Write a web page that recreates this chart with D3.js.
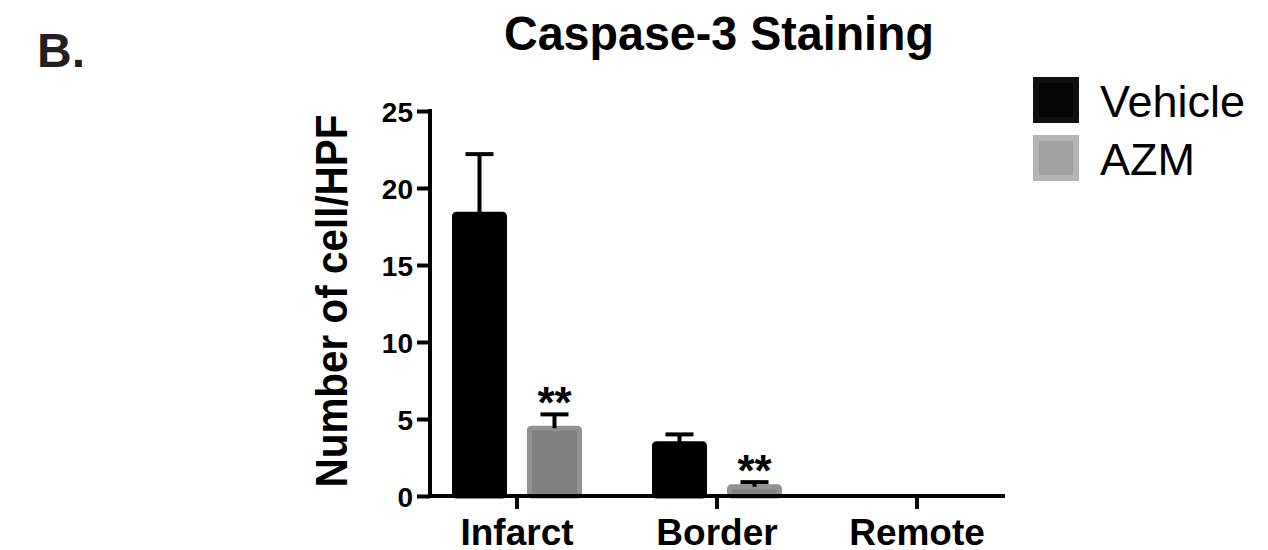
<!DOCTYPE html>
<html lang="en">
    <head>
        <meta charset="utf-8">
        <script type="text/javascript" src="https://d3js.org/d3.v7.min.js"></script>
        <style>
          body { margin: 0; background: #fff; }
          text { font-family: "Liberation Sans", Arial, sans-serif; }
        </style>
    </head>
    <body>
        <div id="chart"></div>
        <script type="text/javascript">
        // data
        var regions = ["Infarct", "Border", "Remote"];
        var groups = ["Vehicle", "AZM"];
        var vehicleMean = [18.3, 3.4, 0];
        var vehicleErr = [3.9, 0.6, 0];
        var azmMean = [4.4, 0.6, 0];
        var azmErr = [0.9, 0.3, 0];
        var stars = ["**", "**", ""];
        var yTicks = [0, 5, 10, 15, 20, 25];

        var width = 1268, height = 550;

        var svg = d3.select("#chart").append("svg")
          .attr("width", width)
          .attr("height", height);

        // scales
        var y = d3.scaleLinear()
          .domain([0, 25])
          .range([496, 111]);

        var x0 = d3.scaleBand()
          .domain(regions)
          .range([417, 1017]);

        var x1 = d3.scaleBand()
          .domain(groups)
          .range([35, 165])
          .paddingInner(20 / 75);

        // build rows from the arrays
        var rows = [];
        regions.forEach(function(r, i) {
          rows.push({region: r, group: "Vehicle", mean: vehicleMean[i], err: vehicleErr[i], star: ""});
          rows.push({region: r, group: "AZM", mean: azmMean[i], err: azmErr[i], star: stars[i]});
        });

        var fill = {Vehicle: "#000", AZM: "#808080"};
        var stroke = {Vehicle: "#000", AZM: "#929292"};

        // bars
        var bars = svg.append("g");
        bars.selectAll("rect")
          .data(rows.filter(function(d){ return d.mean > 0; }))
          .enter().append("rect")
            .attr("x", function(d){ return x0(d.region) + x1(d.group) + 2.5; })
            .attr("width", x1.bandwidth() - 5)
            .attr("y", function(d){ return y(d.mean); })
            .attr("height", function(d){ return y(0) - y(d.mean); })
            .attr("rx", 2)
            .style("fill", function(d){ return fill[d.group]; })
            .style("stroke", function(d){ return stroke[d.group]; })
            .style("stroke-width", 5);

        // error bars (upper only)
        var errs = svg.append("g")
          .selectAll("g")
          .data(rows.filter(function(d){ return d.err > 0; }))
          .enter().append("g");

        errs.append("line")
          .attr("x1", function(d){ return x0(d.region) + x1(d.group) + x1.bandwidth() / 2; })
          .attr("x2", function(d){ return x0(d.region) + x1(d.group) + x1.bandwidth() / 2; })
          .attr("y1", function(d){ return y(d.mean); })
          .attr("y2", function(d){ return y(d.mean + d.err); })
          .style("stroke", "#000")
          .style("stroke-width", 4);

        errs.append("line")
          .attr("x1", function(d){ return x0(d.region) + x1(d.group) + x1.bandwidth() / 2 - 14; })
          .attr("x2", function(d){ return x0(d.region) + x1(d.group) + x1.bandwidth() / 2 + 14; })
          .attr("y1", function(d){ return y(d.mean + d.err); })
          .attr("y2", function(d){ return y(d.mean + d.err); })
          .style("stroke", "#000")
          .style("stroke-width", 4);

        // significance stars
        svg.append("g")
          .selectAll("text")
          .data(rows.filter(function(d){ return d.star; }))
          .enter().append("text")
            .attr("x", function(d){ return x0(d.region) + x1(d.group) + x1.bandwidth() / 2; })
            .attr("y", function(d){ return y(d.mean + d.err) + 4; })
            .attr("text-anchor", "middle")
            .style("font-size", "44px")
            .style("font-weight", "bold")
            .text(function(d){ return d.star; });

        // y axis
        var yAxis = d3.axisLeft(y)
          .tickValues(yTicks)
          .tickSize(13)
          .tickSizeOuter(0)
          .tickPadding(4);

        var yGuide = svg.append("g")
          .attr("transform", "translate(430,0)")
          .call(yAxis);
        yGuide.select(".domain").remove();
        yGuide.selectAll("line").style("stroke", "#000").style("stroke-width", 4);
        yGuide.selectAll("text")
          .style("font-size", "28px")
          .style("font-weight", "bold")
          .style("font-family", "'Liberation Sans', Arial, sans-serif")
          .attr("dy", "0.36em")
          .style("fill", "#000");
        yGuide.append("line")
          .attr("x1", 0).attr("x2", 0)
          .attr("y1", y(25) - 2).attr("y2", y(0) + 2)
          .style("stroke", "#000").style("stroke-width", 4);

        // x axis
        var xAxis = d3.axisBottom(x0)
          .tickSize(13)
          .tickSizeOuter(0)
          .tickPadding(10);

        var xGuide = svg.append("g")
          .attr("transform", "translate(0," + y(0) + ")")
          .call(xAxis);
        xGuide.select(".domain").remove();
        xGuide.selectAll("line").style("stroke", "#000").style("stroke-width", 4);
        xGuide.selectAll("text")
          .style("font-size", "37px")
          .style("font-weight", "bold")
          .style("font-family", "'Liberation Sans', Arial, sans-serif")
          .style("fill", "#000");
        xGuide.append("line")
          .attr("x1", 428).attr("x2", 1005)
          .attr("y1", 0).attr("y2", 0)
          .style("stroke", "#000").style("stroke-width", 4);

        // y label
        svg.append("text")
          .attr("transform", "translate(347,301) rotate(-90)")
          .attr("text-anchor", "middle")
          .attr("textLength", 373)
          .attr("lengthAdjust", "spacingAndGlyphs")
          .style("font-size", "44px")
          .style("font-weight", "bold")
          .text("Number of cell/HPF");

        // title
        svg.append("text")
          .attr("x", 719)
          .attr("y", 50)
          .attr("text-anchor", "middle")
          .attr("textLength", 430)
          .attr("lengthAdjust", "spacingAndGlyphs")
          .style("font-size", "48px")
          .style("font-weight", "bold")
          .text("Caspase-3 Staining");

        // panel letter
        svg.append("text")
          .attr("x", 37)
          .attr("y", 67)
          .style("font-size", "48px")
          .style("font-weight", "bold")
          .style("fill", "#231f20")
          .text("B.");

        // legend
        var legFill = {Vehicle: "#050505", AZM: "#a0a0a0"};
        var legStroke = {Vehicle: "#111", AZM: "#b4b4b4"};
        var legend = svg.append("g")
          .selectAll("g")
          .data(groups)
          .enter().append("g")
            .attr("transform", function(d, i){ return "translate(1033," + (77 + i * 58) + ")"; });

        legend.append("rect")
          .attr("x", 3).attr("y", 3)
          .attr("width", 40).attr("height", 40)
          .style("fill", function(d){ return legFill[d]; })
          .style("stroke", function(d){ return legStroke[d]; })
          .style("stroke-width", 6);

        legend.append("text")
          .attr("x", 67)
          .attr("y", 40)
          .style("font-size", "45px")
          .text(function(d){ return d; });
        </script>
    </body>
</html>
